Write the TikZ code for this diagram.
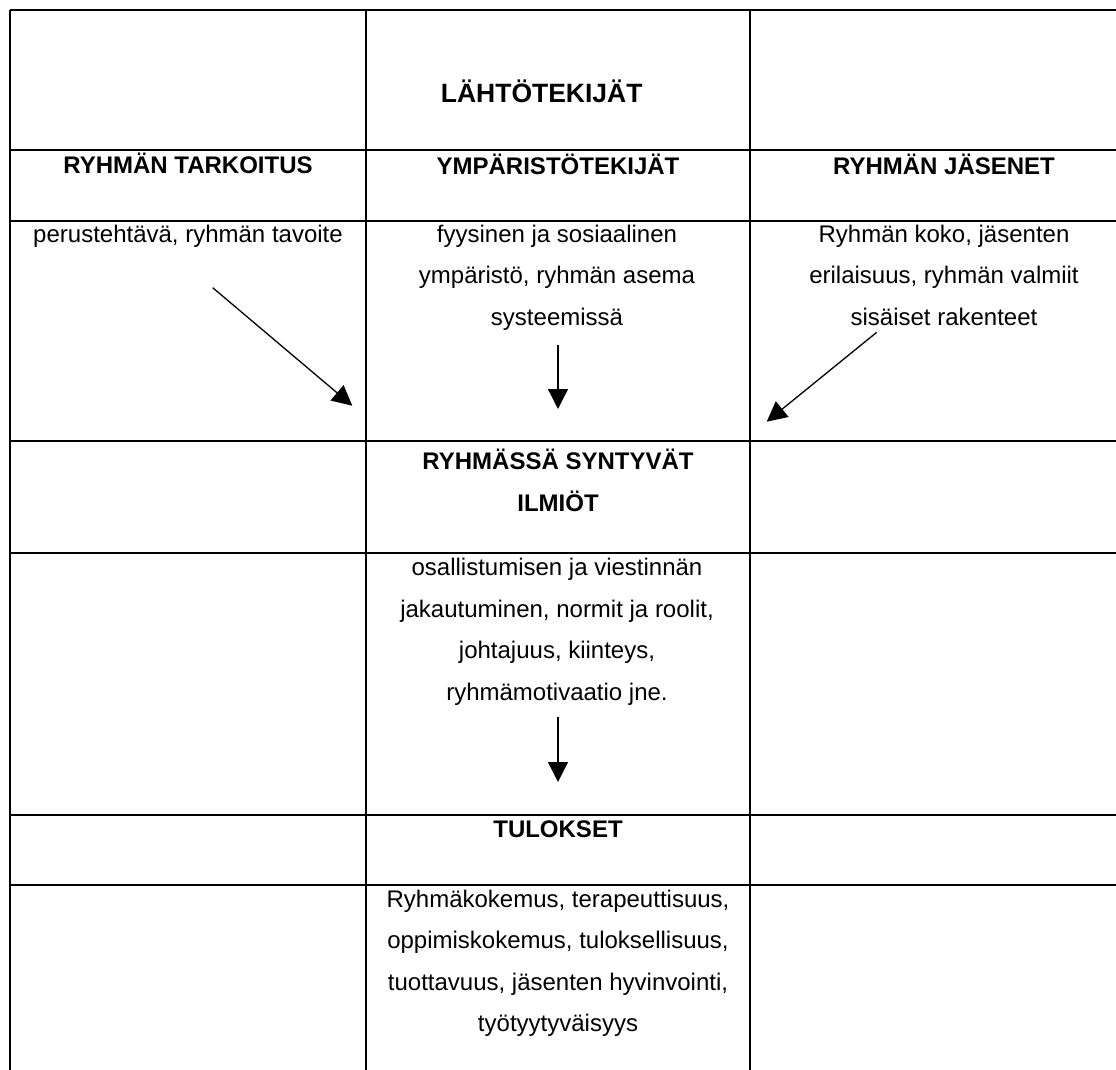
\documentclass[tikz,border=0pt]{standalone}
\usepackage{fontspec}
\setmainfont{Liberation Sans}
\usetikzlibrary{arrows.meta}
\begin{document}
\begin{tikzpicture}[x=1pt,y=-1pt,
  gridline/.style={line width=1.6pt},
  arr/.style={line width=1.3pt,-{Triangle[length=20pt,width=20pt]}},
  hd/.style={font=\fontsize{24}{41.5}\selectfont\bfseries, inner sep=0pt, anchor=base, align=center},
  bd/.style={font=\fontsize{24}{41.5}\selectfont, inner sep=0pt, anchor=base, align=center}]
\useasboundingbox (0,0) rectangle (1116,1070);
% grid
\foreach \x in {10,366,750} \draw[gridline] (\x,10) -- (\x,1070);
\foreach \y in {10,150,221,441,553,815,885} \draw[gridline] (10,\y) -- (1116,\y);
% texts (anchor = baseline of the last line)
\node[hd,font=\fontsize{26.5}{30}\selectfont\bfseries] (lahto) at (541.7,103) {LÄHTÖTEKIJÄT};
\node[hd] (tark) at (188,173) {RYHMÄN TARKOITUS};
\node[hd] (ymp) at (558,174) {YMPÄRISTÖTEKIJÄT};
\node[hd] (jas) at (944,174) {RYHMÄN JÄSENET};
\node[bd] (perus) at (188,242) {perustehtävä, ryhmän tavoite};
\node[bd] (fyys) at (557,325) {fyysinen ja sosiaalinen\\ympäristö, ryhmän asema\\systeemissä};
\node[bd] (jasen) at (944,325) {Ryhmän koko, jäsenten\\erilaisuus, ryhmän valmiit\\sisäiset rakenteet};
\node[hd] (ilm) at (558,511) {RYHMÄSSÄ SYNTYVÄT\\ILMIÖT};
\node[bd] (osal) at (557,700) {osallistumisen ja viestinnän\\jakautuminen, normit ja roolit,\\johtajuus, kiinteys,\\ryhmämotivaatio jne.};
\node[hd] (tul) at (558,837) {TULOKSET};
\node[bd] (tulos) at (558,1031.5) {Ryhmäkokemus, terapeuttisuus,\\oppimiskokemus, tuloksellisuus,\\tuottavuus, jäsenten hyvinvointi,\\työtyytyväisyys};
% arrow ends
\coordinate (a1s) at (212.7,287.7);
\coordinate (a1e) at (352.3,405.7);
\coordinate (a2s) at (558,345);
\coordinate (a2e) at (558,409);
\coordinate (a3s) at (876.7,332.3);
\coordinate (a3e) at (766.7,421.7);
\coordinate (a4s) at (558,717);
\coordinate (a4e) at (558,782);
\draw[arr] (a1s) -- (a1e);
\draw[arr] (a2s) -- (a2e);
\draw[arr] (a3s) -- (a3e);
\draw[arr] (a4s) -- (a4e);
\end{tikzpicture}
\end{document}
